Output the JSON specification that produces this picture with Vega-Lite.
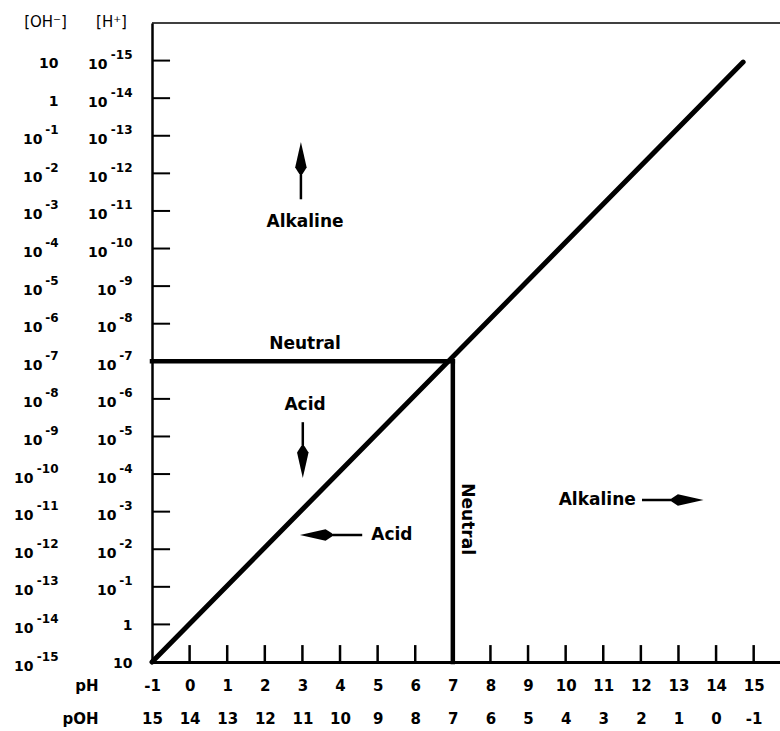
{
  "$schema": "https://vega.github.io/schema/vega-lite/v6.json",
  "width": 628,
  "height": 639,
  "autosize": "none",
  "padding": {"left": 152, "top": 23, "right": 0, "bottom": 69},
  "background": "white",
  "config": {
    "view": {"stroke": null},
    "font": "DejaVu Sans",
    "axisY": {
      "ticks": false, "grid": false, "domain": false,
      "labelFont": "DejaVu Sans", "labelFontWeight": "bold", "labelFontSize": 14, "labelColor": "black",
      "labelFlush": false, "labelOverlap": false, "labelAlign": "right", "labelBaseline": "middle",
      "title": null,
      "titleAngle": 0, "titleAlign": "center", "titleBaseline": "middle",
      "titleFont": "DejaVu Sans", "titleFontSize": 15, "titleFontWeight": "normal", "titleColor": "black"
    }
  },
  "datasets": {
    "diag": [{"x": -1, "y": -1}, {"x": 14.72, "y": 14.96}],
    "neutral": [
      {"x1": -1, "y1": 7, "x2": 7, "y2": 7},
      {"x1": 7, "y1": 7, "x2": 7, "y2": -1}
    ],
    "shafts": [
      {"x1": 2.96, "y1": 11.31, "x2": 2.96, "y2": 12.41},
      {"x1": 3.01, "y1": 5.38, "x2": 3.01, "y2": 4.32},
      {"x1": 4.59, "y1": 2.38, "x2": 3.36, "y2": 2.38},
      {"x1": 12.03, "y1": 3.31, "x2": 13.24, "y2": 3.31}
    ],
    "heads": [
      {"dir": "up", "x": 2.96, "y": 12.41},
      {"dir": "down", "x": 3.01, "y": 4.32},
      {"dir": "left", "x": 3.36, "y": 2.38},
      {"dir": "right", "x": 13.24, "y": 3.31}
    ],
    "labels": [
      {"text": "Alkaline", "x": 3.07, "y": 10.7},
      {"text": "Neutral", "x": 3.07, "y": 7.46},
      {"text": "Acid", "x": 3.07, "y": 5.84},
      {"text": "Acid", "x": 5.38, "y": 2.38},
      {"text": "Alkaline", "x": 10.84, "y": 3.31}
    ],
    "vlabels": [{"text": "Neutral", "x": 7.38, "y": 2.8}],
    "yticks": [{"v": 0}, {"v": 1}, {"v": 2}, {"v": 3}, {"v": 4}, {"v": 5}, {"v": 6}, {"v": 7}, {"v": 8}, {"v": 9}, {"v": 10}, {"v": 11}, {"v": 12}, {"v": 13}, {"v": 14}, {"v": 15}],
    "xticks": [{"p": 0}, {"p": 1}, {"p": 2}, {"p": 3}, {"p": 4}, {"p": 5}, {"p": 6}, {"p": 7}, {"p": 8}, {"p": 9}, {"p": 10}, {"p": 11}, {"p": 12}, {"p": 13}, {"p": 14}, {"p": 15}],
    "one": [{}]
  },
  "resolve": {"axis": {"x": "independent", "y": "independent"}},
  "layer": [
    {
      "data": {"name": "diag"},
      "mark": {"type": "line", "color": "black", "strokeWidth": 5, "strokeCap": "round"},
      "encoding": {
        "x": {
          "field": "x", "type": "quantitative",
          "scale": {"domain": [-1, 15.7], "nice": false, "zero": false},
          "axis": {
            "orient": "bottom",
            "title": ["pH", "pOH"],
            "values": [-1, 0, 1, 2, 3, 4, 5, 6, 7, 8, 9, 10, 11, 12, 13, 14, 15],
            "labelExpr": "[datum.value + '', (14 - datum.value) + '']",
            "ticks": false, "grid": false,
            "domainColor": "black", "domainWidth": 3,
            "labelPadding": 16, "labelLineHeight": 33,
            "labelFont": "DejaVu Sans", "labelFontWeight": "bold", "labelFontSize": 15, "labelColor": "black",
            "labelFlush": false, "labelOverlap": false, "labelBaseline": "top",
            "titleX": -54, "titleY": 16, "titleAlign": "right", "titleBaseline": "top", "titleAngle": 0,
            "titleLineHeight": 33, "titleFont": "DejaVu Sans", "titleFontSize": 15, "titleFontWeight": "bold", "titleColor": "black"
          }
        },
        "y": {
          "field": "y", "type": "quantitative",
          "scale": {"domain": [-1, 16], "nice": false, "zero": false},
          "axis": {
            "orient": "left",
            "title": "[H⁺]",
            "titleX": -41, "titleY": -2,
            "domain": true, "domainColor": "black", "domainWidth": 2.5,
            "values": [10, 11, 12, 13, 14, 15],
            "labelExpr": "'10'",
            "labelPadding": 45, "labelOffset": 4
          }
        }
      }
    },
    {
      "data": {"name": "yticks"},
      "mark": {"type": "rule", "color": "black", "strokeWidth": 2},
      "encoding": {
        "y": {
          "field": "v", "type": "quantitative",
          "axis": {
            "orient": "left",
            "title": "[OH⁻]",
            "titleX": -107, "titleY": -2,
            "values": [-1, 0, 1, 2, 3, 4],
            "labelExpr": "'10'",
            "labelPadding": 119, "labelOffset": 4
          }
        },
        "x": {"datum": -1, "type": "quantitative", "axis": null},
        "x2": {"datum": -0.52}
      }
    },
    {
      "data": {"name": "neutral"},
      "mark": {"type": "rule", "color": "black", "strokeWidth": 4.5, "strokeCap": "square"},
      "encoding": {
        "x": {"field": "x1", "type": "quantitative", "axis": null},
        "y": {
          "field": "y1", "type": "quantitative",
          "axis": {
            "orient": "left",
            "values": [1, 2, 3, 4, 5, 6, 7, 8, 9, 10, 11, 12, 13, 14, 15],
            "labelExpr": "'-' + datum.value",
            "labelFontSize": 12,
            "labelPadding": 20, "labelOffset": -6
          }
        },
        "x2": {"field": "x2"},
        "y2": {"field": "y2"}
      }
    },
    {
      "data": {"name": "shafts"},
      "mark": {"type": "rule", "color": "black", "strokeWidth": 2.5},
      "encoding": {
        "x": {"field": "x1", "type": "quantitative", "axis": null},
        "y": {
          "field": "y1", "type": "quantitative",
          "axis": {
            "orient": "left",
            "values": [-1, 0, 1, 2, 3, 4, 5, 6, 7, 8, 9, 10, 11, 12, 13],
            "labelExpr": "'-' + (14 - datum.value)",
            "labelFontSize": 12,
            "labelPadding": 94, "labelOffset": -6
          }
        },
        "x2": {"field": "x2"},
        "y2": {"field": "y2"}
      }
    },
    {
      "data": {"name": "heads"},
      "mark": {"type": "point", "filled": true, "color": "black", "opacity": 1, "size": 1024, "strokeWidth": 0},
      "encoding": {
        "x": {"field": "x", "type": "quantitative", "axis": null},
        "y": {
          "field": "y", "type": "quantitative",
          "axis": {
            "orient": "left",
            "values": [1, 2, 3, 4, 5, 6, 7, 8, 9],
            "labelExpr": "'10'",
            "labelPadding": 36, "labelOffset": 4
          }
        },
        "shape": {
          "field": "dir", "type": "nominal", "legend": null,
          "scale": {
            "domain": ["up", "down", "left", "right"],
            "range": [
              "M0,-1L0.36,0.6L0.1,1L-0.1,1L-0.36,0.6Z",
              "M0,1L0.36,-0.6L0.1,-1L-0.1,-1L-0.36,-0.6Z",
              "M-1,0L0.6,0.36L1,0.1L1,-0.1L0.6,-0.36Z",
              "M1,0L-0.6,0.36L-1,0.1L-1,-0.1L-0.6,-0.36Z"
            ]
          }
        }
      }
    },
    {
      "data": {"name": "labels"},
      "mark": {"type": "text", "font": "DejaVu Sans", "fontWeight": "bold", "fontSize": 17, "color": "black", "align": "center", "baseline": "middle"},
      "encoding": {
        "x": {"field": "x", "type": "quantitative", "axis": null},
        "y": {
          "field": "y", "type": "quantitative",
          "axis": {
            "orient": "left",
            "values": [5, 6, 7, 8, 9, 10, 11, 12, 13],
            "labelExpr": "'10'",
            "labelPadding": 110, "labelOffset": 4
          }
        },
        "text": {"field": "text"}
      }
    },
    {
      "data": {"name": "vlabels"},
      "mark": {"type": "text", "font": "DejaVu Sans", "fontWeight": "bold", "fontSize": 17, "color": "black", "align": "center", "baseline": "middle", "angle": 90},
      "encoding": {
        "x": {"field": "x", "type": "quantitative", "axis": null},
        "y": {
          "field": "y", "type": "quantitative",
          "axis": {
            "orient": "left",
            "values": [-1, 0],
            "labelExpr": "datum.value == 0 ? '1' : '10'",
            "labelPadding": 20, "labelOffset": 1
          }
        },
        "text": {"field": "text"}
      }
    },
    {
      "data": {"name": "xticks"},
      "mark": {"type": "rule", "color": "black", "strokeWidth": 2.5},
      "encoding": {
        "x": {"field": "p", "type": "quantitative", "axis": null},
        "y": {"datum": -1, "type": "quantitative", "axis": null},
        "y2": {"datum": -0.55}
      }
    },
    {
      "data": {"name": "one"},
      "mark": {"type": "rule", "color": "black", "strokeWidth": 1.5},
      "encoding": {
        "x": {"datum": -1, "type": "quantitative", "axis": null},
        "x2": {"datum": 15.7},
        "y": {
          "datum": 16, "type": "quantitative",
          "axis": {
            "orient": "left",
            "values": [14, 15],
            "labelExpr": "datum.value == 14 ? '1' : '10'",
            "labelPadding": 94, "labelOffset": 3
          }
        }
      }
    }
  ]
}
